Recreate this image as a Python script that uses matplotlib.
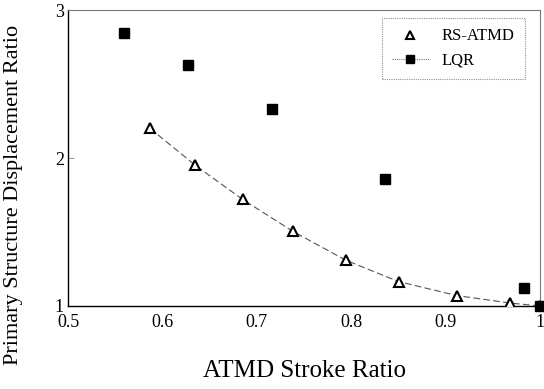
import matplotlib
matplotlib.use("Agg")
import matplotlib.pyplot as plt
from matplotlib.lines import Line2D

rs_x = [0.587, 0.635, 0.685, 0.738, 0.794, 0.850, 0.912, 0.968, 1.0]
rs_y = [2.20, 1.95, 1.72, 1.505, 1.31, 1.165, 1.07, 1.02, 1.0]
lqr_x = [0.559, 0.627, 0.716, 0.836, 0.983, 1.0]
lqr_y = [2.845, 2.63, 2.33, 1.86, 1.12, 1.0]
xticks = [0.5, 0.6, 0.7, 0.8, 0.9, 1.0]
xticklabels = ["0.5", "0.6", "0.7", "0.8", "0.9", "1"]
yticks = [1, 2, 3]

plt.rcParams['font.family'] = ['Liberation Serif', 'DejaVu Serif']

fig = plt.figure(figsize=(5.44, 3.89), dpi=100)
ax = fig.add_axes([0.125, 0.2134, 0.868, 0.7606])

ax.plot(rs_x, rs_y, linestyle=(0, (6, 3)), color='#555555', lw=0.8,
        marker='^', markersize=6.5, markerfacecolor='white',
        markeredgecolor='black', markeredgewidth=1.5, zorder=3)
ax.plot(lqr_x, lqr_y, linestyle='none', marker='s', markersize=7,
        color='black', zorder=3, clip_on=False)

ax.set_xlim(0.5, 1.0)
ax.set_ylim(1, 3)
ax.set_xticks(xticks)
ax.set_xticklabels(xticklabels, fontsize=13)
ax.set_yticks(yticks)
ax.set_yticklabels([str(t) for t in yticks], fontsize=13)
ax.tick_params(axis='x', length=0, pad=6)
ax.tick_params(axis='y', length=4, direction='in', pad=3, width=0.6, color='#888888')

for s in ['top', 'right']:
    ax.spines[s].set_linestyle((0, (1, 1)))
    ax.spines[s].set_color('#777777')
    ax.spines[s].set_linewidth(0.8)
for s in ['left', 'bottom']:
    ax.spines[s].set_color('black')
    ax.spines[s].set_linewidth(1.0)

ax.set_xlabel("ATMD Stroke Ratio", fontsize=18, labelpad=21)
ax.set_ylabel("Primary Structure Displacement Ratio", fontsize=16)
ax.yaxis.set_label_coords(-0.095, 0.377)

h1 = Line2D([], [], linestyle='none', marker='^', markersize=6,
            markerfacecolor='white', markeredgecolor='black', markeredgewidth=1.5)
h2 = Line2D([], [], linestyle=(0, (1, 1)), color='#777777', lw=0.8,
            marker='s', markersize=6, markerfacecolor='black', markeredgecolor='black')
leg = ax.legend([h1, h2], ["RS-ATMD", "LQR"], loc='upper right',
                bbox_to_anchor=(0.985, 1.0), fontsize=12, frameon=True,
                fancybox=False, handlelength=2.2, borderpad=0.6, labelspacing=0.5)
fr = leg.get_frame()
fr.set_edgecolor('#777777')
fr.set_linestyle((0, (1, 1)))
fr.set_linewidth(0.8)

fig.savefig("out.png", dpi=100)
